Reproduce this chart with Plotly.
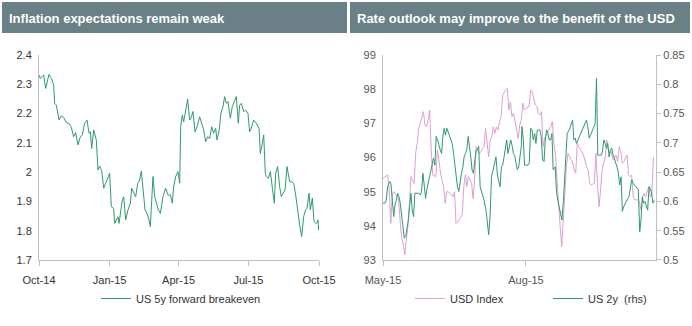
import plotly.graph_objects as go
import pandas as pd

# ---------------- data ----------------
# Left chart: US 5y forward breakeven (days since start date, value)
bei_start = "2014-10-01"
bei_days = [0, 1.7, 4.3, 6.1, 8.7, 10.4, 13.0, 16.1, 19.1, 20.4,
            22.6, 26.1, 29.1, 32.2, 35.6, 39.1, 42.1, 45.2, 47.8, 50.8,
            53.9, 56.5, 59.5, 62.6, 65.2, 66.9, 68.7, 71.3, 74.7, 76.9,
            79.1, 81.7, 84.3, 86.9, 89.9, 92.1, 94.3, 97.3, 98.6, 100.8,
            103.0, 104.3, 106.0, 108.6, 110.4, 113.0, 116.0, 119.1, 120.8, 123.4,
            126.0, 128.6, 131.2, 133.4, 135.6, 138.2, 140.8, 143.4, 145.1, 146.9,
            148.6, 150.8, 153.0, 155.6, 158.2, 161.6, 165.1, 168.2, 171.2, 173.8,
            175.5, 178.2, 181.2, 183.4, 184.7, 186.8, 188.6, 191.2, 193.8, 196.4,
            198.6, 200.7, 203.4, 206.0, 209.4, 212.0, 214.7, 217.3, 219.9, 222.5,
            225.1, 227.7, 230.3, 232.0, 234.6, 237.2, 239.9, 242.0, 244.2, 246.4,
            249.4, 252.0, 255.1, 257.2, 259.8, 261.6, 263.8, 266.8, 269.4, 272.4,
            274.6, 276.8, 279.8, 283.3, 286.8, 288.5, 291.1, 292.9, 295.0, 296.3,
            299.0, 301.6, 304.2, 306.8, 308.5, 311.1, 313.7, 315.9, 318.1, 320.7,
            323.3, 325.0, 326.8, 329.4, 332.0, 334.6, 337.6, 339.8, 342.4, 345.0,
            347.6, 349.4, 352.0, 353.7, 356.3, 358.5, 360.7, 362.4, 363.7, 364.5,
            365.0]
bei_vals = [2.332, 2.320, 2.328, 2.332, 2.286, 2.306, 2.334, 2.320, 2.298, 2.235,
            2.229, 2.178, 2.192, 2.187, 2.169, 2.167, 2.153, 2.121, 2.135, 2.093,
            2.121, 2.127, 2.167, 2.178, 2.133, 2.138, 2.081, 2.144, 2.110, 2.007,
            2.021, 2.005, 1.945, 1.962, 1.979, 1.996, 1.882, 1.876, 1.825, 1.837,
            1.848, 1.825, 1.865, 1.905, 1.916, 1.837, 1.871, 1.894, 1.945, 1.928,
            1.916, 1.960, 1.973, 2.004, 1.950, 1.871, 1.859, 1.837, 1.814, 1.905,
            1.985, 1.916, 1.894, 1.871, 1.859, 1.916, 1.945, 1.922, 1.922, 1.894,
            1.950, 1.985, 2.002, 1.962, 2.155, 2.195, 2.172, 2.218, 2.249, 2.178,
            2.187, 2.207, 2.138, 2.155, 2.189, 2.167, 2.144, 2.104, 2.121, 2.115,
            2.155, 2.133, 2.150, 2.110, 2.138, 2.201, 2.224, 2.258, 2.235, 2.241,
            2.184, 2.224, 2.246, 2.258, 2.167, 2.229, 2.235, 2.207, 2.212, 2.201,
            2.138, 2.150, 2.178, 2.167, 2.150, 2.064, 2.098, 2.127, 1.996, 1.985,
            1.979, 2.002, 1.945, 1.894, 1.996, 2.019, 1.950, 1.916, 1.928, 1.939,
            2.019, 1.985, 1.967, 1.967, 1.962, 1.922, 1.859, 1.820, 1.780, 1.848,
            1.871, 1.876, 1.928, 1.871, 1.911, 1.831, 1.825, 1.827, 1.837, 1.802,
            1.815]

# Right chart: USD index (lhs) and US 2y (rhs), days since start date
rt_start = "2015-05-01"
usd_days = [0, 2, 3, 4, 5, 6, 7, 9, 10, 11,
            12, 13, 14, 15, 16, 17, 18, 19, 20, 21,
            22, 23, 25, 26, 27, 28, 29, 30, 31, 32,
            34, 35, 36, 37, 38, 39, 40, 41, 42, 43,
            45, 46, 47, 48, 50, 51, 52, 53, 54, 55,
            57, 58, 59, 60, 62, 63, 64, 65, 66, 67,
            68, 69, 70, 71, 72, 73, 74, 75, 76, 77,
            78, 79, 80, 81, 82, 83, 84, 85, 86, 87,
            88, 89, 90, 91, 92, 94, 95, 96, 97, 98,
            99, 100, 101, 102, 103, 104, 105, 106, 108, 109,
            110, 111, 112, 113, 114, 115, 116, 117, 118, 119,
            120, 121, 122, 123, 124, 125, 126, 127, 128, 129,
            131, 132, 133, 134, 136, 137, 138, 139, 140, 141,
            143, 144, 145, 146, 147, 148, 150, 151, 152, 153,
            154, 155, 156, 157, 158, 159, 160, 161, 162, 163,
            164, 165, 166, 167, 168, 169, 171, 172, 173, 174]
usd_vals = [95.39, 95.44, 95.49, 95.05, 94.07, 94.95, 95.00, 94.85, 94.80, 94.17,
            93.63, 93.49, 93.15, 93.59, 93.98, 94.66, 95.44, 95.34, 95.24, 96.12,
            96.41, 96.85, 97.20, 97.34, 96.95, 96.90, 97.10, 97.39, 96.22, 95.49,
            95.44, 96.22, 95.93, 95.54, 95.34, 95.15, 94.66, 95.00, 95.00, 94.95,
            94.85, 95.00, 94.07, 94.12, 94.27, 94.32, 95.15, 95.49, 95.15, 95.44,
            95.24, 94.80, 95.39, 96.32, 96.12, 96.17, 96.27, 96.32, 96.85, 96.32,
            96.02, 96.51, 96.61, 96.90, 96.71, 96.90, 96.80, 97.05, 97.20, 97.83,
            97.93, 97.98, 98.02, 97.39, 97.63, 97.20, 97.29, 97.00, 96.76, 96.56,
            96.95, 97.10, 97.59, 97.39, 97.44, 97.49, 97.98, 97.93, 97.73, 97.54,
            97.49, 97.29, 97.24, 97.34, 96.32, 96.56, 96.66, 96.76, 96.90, 97.05,
            96.37, 96.07, 95.34, 94.46, 93.98, 93.39, 94.17, 95.05, 95.73, 96.12,
            96.02, 95.93, 95.88, 95.63, 95.54, 96.41, 96.32, 96.22, 96.12, 96.07,
            95.73, 95.63, 95.24, 95.20, 95.24, 96.12, 95.24, 94.56, 95.05, 95.63,
            96.02, 96.51, 96.22, 96.12, 96.17, 95.93, 96.07, 95.88, 96.32, 96.17,
            95.83, 95.88, 95.98, 96.07, 95.49, 95.44, 95.49, 94.85, 94.76, 94.76,
            94.76, 94.71, 94.46, 94.85, 94.95, 94.85, 95.15, 94.85, 94.95, 96.02]
us2y_days = [0, 1.3, 2.1, 3.0, 4.3, 5.1, 6.0, 6.9, 7.7, 8.6,
             9.4, 10.3, 11.1, 12.0, 12.8, 13.7, 14.6, 15.4, 16.3, 17.1,
             18.0, 18.8, 19.7, 20.5, 21.4, 22.7, 24.0, 24.8, 25.7, 26.5,
             27.4, 28.2, 29.1, 30.0, 30.8, 31.7, 32.5, 33.4, 34.2, 35.1,
             35.9, 36.8, 37.7, 38.5, 39.4, 40.2, 41.1, 41.9, 42.8, 43.6,
             44.5, 45.4, 46.2, 47.1, 47.9, 48.8, 49.6, 50.5, 51.4, 52.2,
             53.1, 53.9, 54.8, 55.6, 56.5, 57.3, 58.2, 59.1, 59.9, 60.8,
             61.6, 62.5, 63.8, 65.0, 66.3, 67.2, 68.0, 68.9, 69.8, 70.6,
             71.9, 72.7, 73.6, 74.5, 75.3, 76.2, 77.0, 77.9, 78.7, 79.6,
             80.4, 81.3, 82.2, 83.0, 83.9, 84.7, 85.6, 86.4, 87.3, 88.2,
             89.0, 89.4, 90.3, 91.1, 92.0, 93.3, 94.1, 95.0, 95.9, 96.7,
             97.6, 98.4, 99.3, 100.1, 101.0, 101.8, 102.7, 103.6, 104.4, 105.3,
             106.1, 107.0, 107.8, 108.7, 109.5, 110.8, 111.7, 112.5, 113.4, 114.3,
             115.1, 116.0, 116.8, 117.7, 118.5, 119.8, 121.1, 122.0, 122.8, 123.7,
             124.5, 125.4, 126.2, 127.1, 128.4, 129.7, 130.9, 131.8, 132.7, 133.5,
             134.4, 135.6, 136.5, 137.4, 138.2, 139.1, 140.4, 141.2, 142.1, 142.9,
             143.8, 144.6, 145.5, 146.3, 147.2, 148.1, 148.9, 149.8, 150.6, 151.5,
             152.3, 153.2, 154.0, 154.9, 155.8, 156.6, 157.5, 158.3, 159.2, 160.0,
             160.9, 161.8, 162.6, 163.5, 164.3, 165.2, 166.0, 166.9, 167.7, 168.6,
             169.5, 170.3, 171.2, 172.0, 172.9, 173.7, 174.6]
us2y_vals = [0.597, 0.597, 0.602, 0.625, 0.634, 0.631, 0.602, 0.574, 0.594, 0.602,
             0.614, 0.608, 0.597, 0.574, 0.551, 0.537, 0.540, 0.554, 0.568, 0.591,
             0.614, 0.585, 0.574, 0.614, 0.614, 0.614, 0.611, 0.617, 0.648, 0.620,
             0.605, 0.620, 0.631, 0.642, 0.654, 0.659, 0.674, 0.662, 0.711, 0.705,
             0.694, 0.688, 0.682, 0.711, 0.725, 0.713, 0.725, 0.719, 0.711, 0.705,
             0.699, 0.682, 0.662, 0.637, 0.625, 0.617, 0.637, 0.648, 0.659, 0.676,
             0.682, 0.688, 0.711, 0.688, 0.676, 0.654, 0.648, 0.671, 0.688, 0.688,
             0.694, 0.625, 0.614, 0.602, 0.585, 0.566, 0.543, 0.574, 0.642, 0.651,
             0.665, 0.676, 0.645, 0.631, 0.625, 0.659, 0.662, 0.676, 0.694, 0.705,
             0.682, 0.694, 0.705, 0.696, 0.682, 0.679, 0.668, 0.654, 0.659, 0.676,
             0.694, 0.728, 0.705, 0.662, 0.662, 0.662, 0.665, 0.725, 0.722, 0.705,
             0.716, 0.699, 0.722, 0.722, 0.722, 0.711, 0.671, 0.668, 0.705, 0.722,
             0.716, 0.705, 0.705, 0.716, 0.654, 0.659, 0.614, 0.602, 0.591, 0.580,
             0.568, 0.597, 0.637, 0.659, 0.716, 0.722, 0.731, 0.739, 0.705, 0.708,
             0.699, 0.705, 0.711, 0.716, 0.725, 0.733, 0.739, 0.728, 0.708, 0.713,
             0.719, 0.728, 0.733, 0.810, 0.679, 0.679, 0.679, 0.685, 0.705, 0.699,
             0.691, 0.699, 0.676, 0.688, 0.691, 0.679, 0.674, 0.665, 0.659, 0.648,
             0.628, 0.642, 0.583, 0.591, 0.597, 0.602, 0.605, 0.608, 0.625, 0.637,
             0.631, 0.628, 0.625, 0.622, 0.620, 0.548, 0.568, 0.608, 0.597, 0.600,
             0.591, 0.585, 0.625, 0.622, 0.614, 0.597, 0.602]

titles = ["Inflation expectations remain weak",
          "Rate outlook may improve to the benefit of the USD"]
left_ticks = ["2014-10-01", "2015-01-01", "2015-04-01", "2015-07-01", "2015-10-01"]
right_ticks = ["2015-05-01", "2015-08-01"]

# ---------------- styling ----------------
W, H = 692, 326
def px(x): return x / W
def py(y): return 1 - y / H

FONT = "Liberation Sans Narrow, Arial Narrow, Liberation Sans, Arial, sans-serif"
GREEN = "#2f9a6c"
PINK = "#dc9fd6"
AXIS = "#bfbfbf"
BAR = "#688086"

bei_x = pd.Timestamp(bei_start) + pd.to_timedelta(bei_days, unit="D")
usd_x = pd.Timestamp(rt_start) + pd.to_timedelta(usd_days, unit="D")
us2y_x = pd.Timestamp(rt_start) + pd.to_timedelta(us2y_days, unit="D")

fig = go.Figure()
fig.add_trace(go.Scatter(x=bei_x, y=bei_vals, mode="lines", name="US 5y forward breakeven",
                         line=dict(color=GREEN, width=1), xaxis="x", yaxis="y", legend="legend"))
fig.add_trace(go.Scatter(x=usd_x, y=usd_vals, mode="lines", name="USD Index",
                         line=dict(color=PINK, width=1), xaxis="x2", yaxis="y2", legend="legend2"))
fig.add_trace(go.Scatter(x=us2y_x, y=us2y_vals, mode="lines", name="US 2y  (rhs)",
                         line=dict(color=GREEN, width=1), xaxis="x2", yaxis="y3", legend="legend2"))

ydom = [py(260), py(55)]
TS = 11
tickfont_l = dict(family=FONT, size=TS, color="#333333")
tickfont_r = dict(family=FONT, size=TS, color="#555555")

fig.update_layout(
    width=W, height=H, margin=dict(l=0, r=0, t=0, b=0, autoexpand=False),
    paper_bgcolor="white", plot_bgcolor="white",
    font=dict(family=FONT),
    xaxis=dict(domain=[px(39), px(319)], type="date",
               range=[left_ticks[0], left_ticks[-1]],
               tickvals=left_ticks, tickformat="%b-%y",
               showline=True, linecolor=AXIS, linewidth=1, ticks="outside",
               tickcolor=AXIS, ticklen=5, showgrid=False, zeroline=False,
               tickfont=tickfont_l, anchor="y", automargin=False,
               ticklabelstandoff=5),
    yaxis=dict(domain=ydom, range=[1.6999, 2.4001], dtick=0.1, tick0=1.7,
               showline=True, linecolor=AXIS, linewidth=1, showgrid=False,
               zeroline=False, tickfont=tickfont_l, anchor="x", ticks="",
               ticklabelstandoff=4, automargin=False),
    xaxis2=dict(domain=[px(383), px(656)], type="date",
                range=[right_ticks[0], "2015-10-23 16:00"],
                tickvals=right_ticks, tickformat="%b-%y",
                showline=True, linecolor=AXIS, linewidth=1, ticks="outside",
                tickcolor=AXIS, ticklen=5, showgrid=False, zeroline=False,
                tickfont=tickfont_r, anchor="y2", automargin=False,
                ticklabelstandoff=5),
    yaxis2=dict(domain=ydom, range=[93, 99.0001], dtick=1,
                showline=True, linecolor=AXIS, linewidth=1, showgrid=False,
                zeroline=False, tickfont=tickfont_r, anchor="x2", ticks="",
                ticklabelstandoff=4, automargin=False),
    yaxis3=dict(domain=ydom, range=[0.4999, 0.8501], dtick=0.05, tick0=0.5,
                overlaying="y2", side="right", anchor="x2",
                showline=True, linecolor=AXIS, linewidth=1, showgrid=False,
                zeroline=False, tickfont=tickfont_r, ticks="outside",
                tickcolor=AXIS, ticklen=4, automargin=False),
    legend=dict(x=px(96), y=py(284), xanchor="left", yanchor="top",
                orientation="h", font=dict(family=FONT, size=TS, color="#333333"),
                bgcolor="rgba(0,0,0,0)", itemwidth=30),
    legend2=dict(x=px(410), y=py(284), xanchor="left", yanchor="top",
                 orientation="h", font=dict(family=FONT, size=TS, color="#333333"),
                 bgcolor="rgba(0,0,0,0)", itemwidth=30,
                 entrywidth=93, entrywidthmode="pixels"),
    showlegend=True,
)

# title bars
for (x0, x1), t in zip([(2, 347), (350, 690)], titles):
    fig.add_shape(type="rect", xref="paper", yref="paper",
                  x0=px(x0), x1=px(x1), y0=py(33), y1=py(2),
                  fillcolor=BAR, line=dict(width=0), layer="below")
    fig.add_annotation(text="<b>" + t + "</b>", xref="paper", yref="paper",
                       x=px(x0 + 5), y=py(18), xanchor="left", yanchor="middle",
                       showarrow=False,
                       font=dict(family=FONT, size=13, color="white"))

fig.write_html("out.html")
